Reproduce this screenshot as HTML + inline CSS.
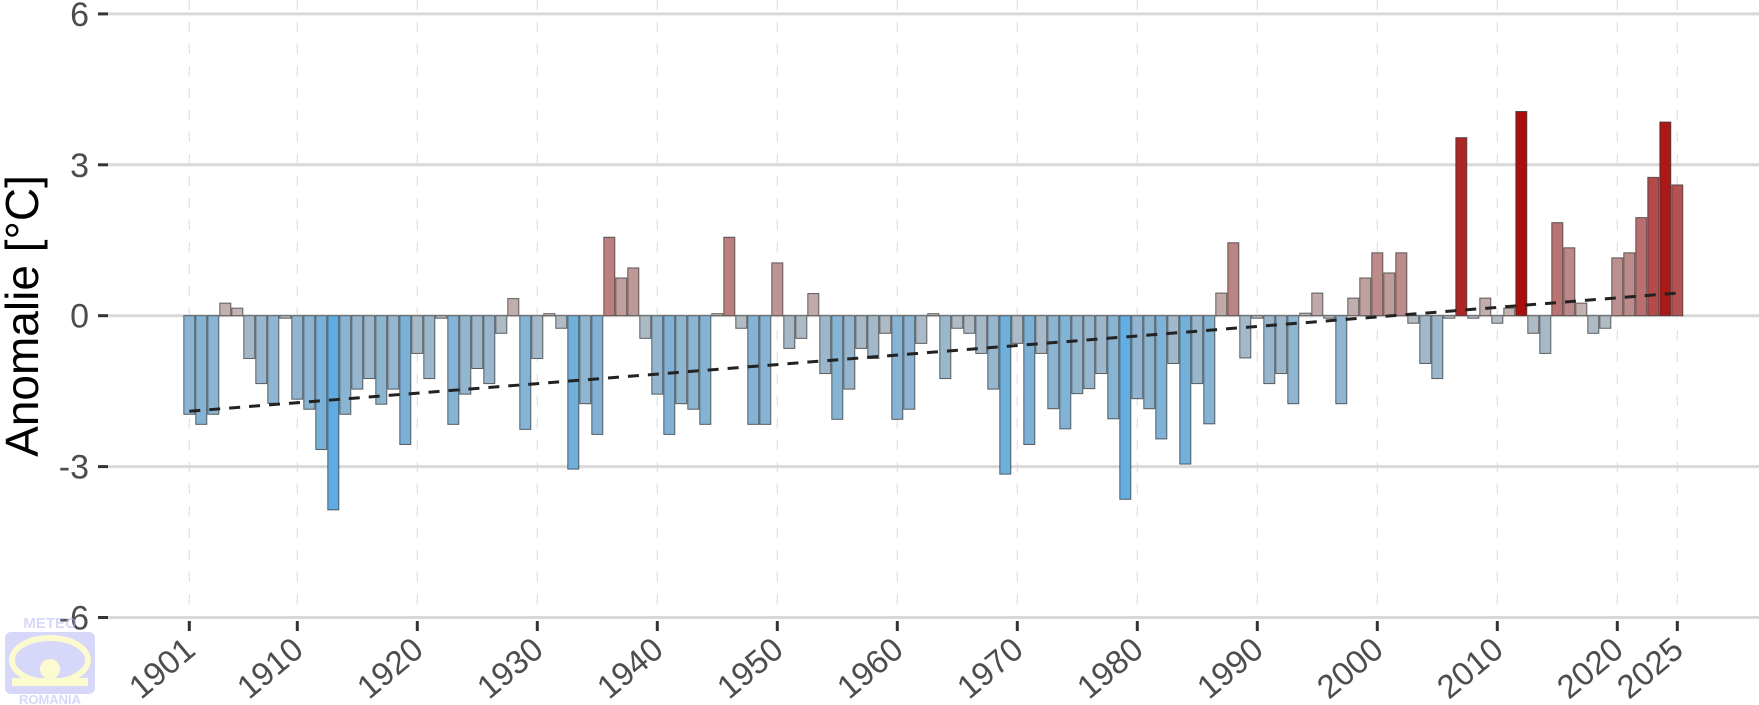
<!DOCTYPE html>
<html><head><meta charset="utf-8"><style>body{margin:0;background:#fff}svg{display:block}</style></head><body>
<svg id="s" width="1759" height="705" xmlns="http://www.w3.org/2000/svg" font-family="Liberation Sans, sans-serif"></svg>
<script>
const s=document.getElementById('s');
const vals=[-1.96,-2.16,-1.96,0.25,0.15,-0.85,-1.35,-1.74,-0.05,-1.66,-1.86,-2.66,-3.86,-1.96,-1.46,-1.25,-1.76,-1.46,-2.56,-0.75,-1.25,-0.05,-2.16,-1.56,-1.05,-1.35,-0.35,0.34,-2.26,-0.85,0.04,-0.25,-3.05,-1.75,-2.36,1.56,0.75,0.95,-0.45,-1.56,-2.36,-1.75,-1.86,-2.16,0.04,1.56,-0.25,-2.16,-2.16,1.05,-0.65,-0.45,0.44,-1.15,-2.06,-1.46,-0.65,-0.85,-0.35,-2.06,-1.86,-0.55,0.04,-1.25,-0.25,-0.35,-0.75,-1.46,-3.15,-0.55,-2.56,-0.75,-1.85,-2.25,-1.55,-1.45,-1.15,-2.05,-3.65,-1.65,-1.85,-2.45,-0.95,-2.95,-1.35,-2.15,0.45,1.45,-0.84,-0.05,-1.35,-1.15,-1.75,0.05,0.45,-0.05,-1.75,0.35,0.75,1.25,0.85,1.25,-0.15,-0.95,-1.25,-0.05,3.54,-0.05,0.35,-0.15,0.15,4.06,-0.35,-0.75,1.85,1.35,0.25,-0.35,-0.25,1.15,1.25,1.95,2.75,3.85,2.6];
const X=y=>189.3+(y-1901)*12, Y=v=>315.7-v*50.3;
let h='';
const ticks=[1901,1910,1920,1930,1940,1950,1960,1970,1980,1990,2000,2010,2020,2025];
ticks.forEach(t=>{h+=`<line x1="${X(t)}" x2="${X(t)}" y1="0" y2="619" stroke="#e3e3e3" stroke-width="1.3" stroke-dasharray="10,12"/>`});
[6,3,0,-3,-6].forEach(v=>{h+=`<line x1="108" x2="1759" y1="${Y(v)}" y2="${Y(v)}" stroke="#d9d9d9" stroke-width="3"/>`;
h+=`<line x1="98" x2="108" y1="${Y(v)}" y2="${Y(v)}" stroke="#333" stroke-width="3"/>`;
h+=`<text x="89" y="${Y(v)+12}" text-anchor="end" font-size="34" fill="#4d4d4d">${v}</text>`});
function col(v){let a,b,t;
 if(v<0){a=[182,188,194];b=[94,172,226];t=Math.min(1,-v/3.9);}
 else{a=[194,184,182];b=[170,14,14];t=Math.min(1,Math.pow(v/4.06,1.15));}
 return `rgb(${a.map((c,i)=>Math.round(c+(b[i]-c)*t)).join(',')})`;}
vals.forEach((v,i)=>{const x=X(1901+i)-5.5,y0=Y(Math.max(v,0)),hh=Math.abs(v)*50.3;
h+=`<rect x="${x}" y="${y0}" width="11" height="${hh}" fill="${col(v)}" stroke="#333" stroke-opacity="0.75" stroke-width="1"/>`});
h+=`<line x1="${X(1901)}" y1="${Y(-1.9)}" x2="${X(2025)}" y2="${Y(0.45)}" stroke="#222" stroke-width="3" stroke-dasharray="11,9"/>`;
ticks.forEach(t=>{h+=`<line x1="${X(t)}" x2="${X(t)}" y1="621" y2="631" stroke="#333" stroke-width="3"/>`;
h+=`<text x="${X(t)+8}" y="653" text-anchor="end" font-size="33" fill="#4d4d4d" transform="rotate(-40 ${X(t)+8} 653)">${t}</text>`});
h+=`<text x="0" y="0" font-size="46" fill="#000" text-anchor="middle" transform="translate(38 316) rotate(-90)">Anomalie [°C]</text>`;
h+=`<g opacity="0.55"><rect x="5" y="632" width="90" height="62" rx="6" fill="#b7b9f5"/>
<ellipse cx="50" cy="660" rx="38" ry="22" fill="none" stroke="#fbf7a8" stroke-width="6"/>
<circle cx="50" cy="669" r="10" fill="#fbf7a8"/><rect x="12" y="678" width="76" height="8" fill="#fbf7a8"/>
<text x="50" y="628" font-size="15" font-weight="bold" fill="#b7b9f5" text-anchor="middle">METEO</text>
<text x="50" y="704" font-size="13" font-weight="bold" fill="#b7b9f5" text-anchor="middle">ROMANIA</text></g>`;
s.innerHTML=h;
</script>
</body></html>
